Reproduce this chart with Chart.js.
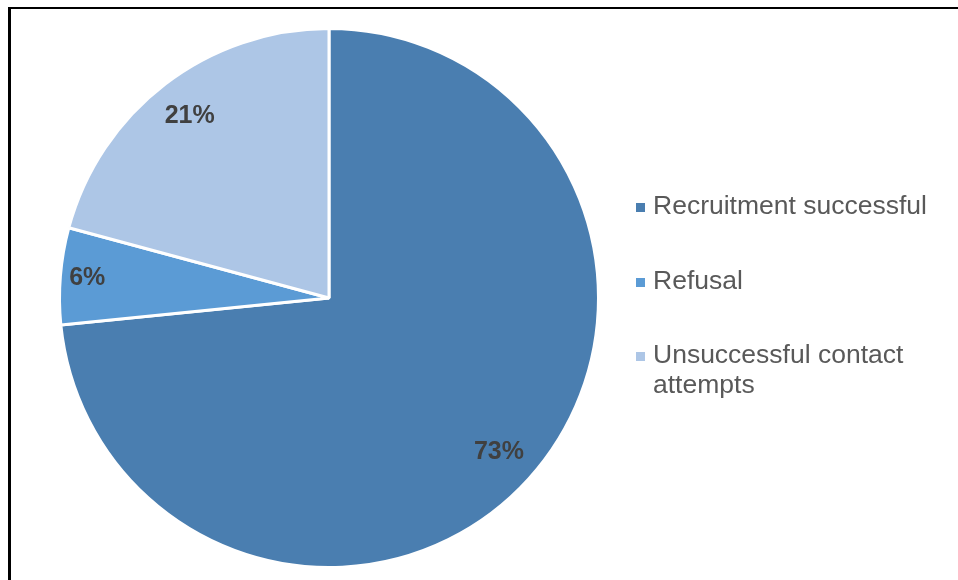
<!DOCTYPE html>
<html>
<head>
<meta charset="utf-8">
<script src="https://cdn.jsdelivr.net/npm/chart.js@4.4.1/dist/chart.umd.min.js"></script>
<style>
  html, body { margin: 0; padding: 0; background: #fff; }
  body { width: 958px; height: 580px; position: relative; overflow: hidden; font-family: Arial, "Liberation Sans", sans-serif; }
  #frame { position: absolute; left: 8px; top: 7px; width: 1000px; height: 700px; border-left: 3px solid #000; border-top: 2px solid #000; }
  #wrap { position: absolute; left: 0; top: 0; width: 958px; height: 580px; }
  .legend-item { position: absolute; left: 636px; width: 310px; }
  .legend-box { position: absolute; left: 0; top: 13px; width: 9px; height: 9px; }
  .legend-text { position: absolute; left: 17px; width: 290px; font-size: 26.5px; line-height: 30px; color: #595959; }
</style>
</head>
<body>
<div id="frame"></div>
<div id="wrap"><canvas id="pieChart" width="958" height="580"></canvas></div>
<div id="legend"></div>
<script>
  const categories = ["Recruitment successful", "Refusal", "Unsuccessful contact attempts"];
  // shares; labels show them rounded
  const shares = [73.4, 5.8, 20.8];
  const colors = ["#4a7eb0", "#5b9bd5", "#adc6e6"];

  // =========================
  //  PERCENT LABELS
  // =========================
  const pctLabels = {
    id: "pctLabels",
    afterDatasetsDraw(chart) {
      const ctx = chart.ctx;
      const meta = chart.getDatasetMeta(0);
      const total = shares.reduce((a, b) => a + b, 0);
      ctx.save();
      ctx.font = "bold 25px Arial, 'Liberation Sans', sans-serif";
      ctx.fillStyle = "#404040";
      ctx.textAlign = "center";
      ctx.textBaseline = "middle";
      meta.data.forEach((arc, i) => {
        const p = arc.getProps(["x", "y", "startAngle", "endAngle", "outerRadius"], true);
        const mid = (p.startAngle + p.endAngle) / 2;
        const pct = Math.round(shares[i] / total * 100);
        const f = pct < 10 ? 0.9 : 0.85;
        ctx.fillText(pct + "%", p.x + Math.cos(mid) * p.outerRadius * f, p.y + Math.sin(mid) * p.outerRadius * f);
      });
      ctx.restore();
    }
  };

  new Chart(document.getElementById("pieChart"), {
    type: "pie",
    data: {
      labels: categories,
      datasets: [{
        data: shares,
        backgroundColor: colors,
        borderColor: "#ffffff",
        borderWidth: 3
      }]
    },
    options: {
      responsive: false,
      animation: false,
      layout: { padding: { left: 58, right: 358, top: 27, bottom: 11 } },
      plugins: {
        legend: { display: false },
        tooltip: { enabled: false }
      }
    },
    plugins: [pctLabels]
  });

  // =========================
  //  LEGEND
  // =========================
  const legend = document.getElementById("legend");
  categories.forEach((name, i) => {
    const item = document.createElement("div");
    item.className = "legend-item";
    item.style.top = (190 + i * 74.7) + "px";
    const box = document.createElement("div");
    box.className = "legend-box";
    box.style.background = colors[i];
    const txt = document.createElement("div");
    txt.className = "legend-text";
    txt.textContent = name;
    item.appendChild(box);
    item.appendChild(txt);
    legend.appendChild(item);
  });
</script>
</body>
</html>
